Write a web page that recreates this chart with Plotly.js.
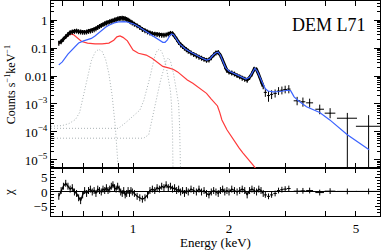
<!DOCTYPE html>
<html><head><meta charset="utf-8">
<script src="https://cdn.plot.ly/plotly-3.0.1.min.js"></script>
<style>html,body{margin:0;padding:0;background:#fff}#chart{width:382px;height:250px}</style>
</head><body><div id="chart"></div>
<script>
// ---- observed spectrum (dense part) ----
const dataE = [0.585,0.595,0.605,0.615,0.625,0.635,0.645,0.655,0.665,0.675,0.685,0.695,0.705,0.715,0.725,0.735,0.745,0.755,0.765,0.775,0.785,0.795,0.805,0.815,0.825,0.835,0.845,0.855,0.865,0.875,0.885,0.895,0.905,0.915,0.925,0.935,0.945,0.955,0.965,0.975,0.985,0.995,1.01,1.03,1.05,1.07,1.09,1.11,1.13,1.15,1.17,1.19,1.21,1.23,1.25,1.27,1.29,1.31,1.33,1.35,1.37,1.39,1.41,1.43,1.45,1.47,1.49,1.52,1.55,1.58,1.61,1.64,1.67,1.70,1.73,1.76,1.79,1.82,1.85,1.88,1.91,1.94,1.97,2.00,2.04,2.08,2.12,2.16,2.20,2.24,2.28,2.32,2.36,2.40,2.44,2.48,2.52,2.56];
const dataC = [0.15,0.17,0.21,0.26,0.31,0.36,0.38,0.40,0.41,0.39,0.38,0.37,0.37,0.38,0.40,0.41,0.43,0.46,0.50,0.55,0.60,0.65,0.70,0.75,0.80,0.84,0.88,0.92,0.97,1.02,1.07,1.12,1.15,1.17,1.18,1.17,1.13,1.07,1.00,0.93,0.86,0.80,0.72,0.63,0.55,0.47,0.42,0.38,0.35,0.33,0.32,0.31,0.30,0.29,0.29,0.30,0.32,0.34,0.33,0.27,0.21,0.16,0.13,0.115,0.10,0.088,0.078,0.068,0.060,0.053,0.048,0.044,0.040,0.037,0.038,0.046,0.058,0.068,0.070,0.055,0.036,0.022,0.016,0.014,0.013,0.012,0.0105,0.0095,0.0085,0.0078,0.0072,0.009,0.012,0.018,0.017,0.011,0.0068,0.0042];
const dataChi = [-1.5,0.5,2.0,3.0,2.0,1.0,1.5,0.0,-0.5,-2.0,-3.0,-1.0,0.5,-0.5,0.5,1.0,0.0,0.5,-0.5,1.0,0.5,0.0,1.0,0.5,1.5,0.5,1.0,2.0,2.5,1.5,1.0,2.0,1.0,0.0,-0.5,0.5,-1.0,-0.5,0.5,-0.5,0.5,0.0,-0.5,-1.5,-2.0,-2.5,-2.0,-1.0,0.5,1.0,0.5,1.5,1.0,2.0,1.5,2.5,1.5,2.0,1.0,1.5,0.5,1.0,0.0,0.5,-0.5,0.5,0.0,1.0,0.5,0.0,1.0,0.0,0.5,-0.5,-1.0,0.0,0.5,0.0,-0.5,0.5,1.0,0.0,0.5,0.0,1.0,0.5,0.0,0.5,1.0,0.5,-1.0,0.5,1.0,0.5,0.0,1.0,0.5,-0.5];

// ---- observed spectrum (sparse, high energy bins) ----
const binE    = [2.60,2.66,2.72,2.79,2.86,2.93,3.00,3.08,3.27,3.41,3.58,3.85,4.15,4.70,5.48];
const binHalf = [0.03,0.03,0.03,0.035,0.035,0.035,0.04,0.04,0.08,0.06,0.09,0.12,0.16,0.34,0.48];
const binC    = [0.0026,0.0020,0.0022,0.0024,0.0029,0.0031,0.0033,0.0034,0.0013,0.0012,0.0011,0.00065,0.00047,0.00031,0.00016];
const binUp   = [0.0010,0.0009,0.0009,0.0009,0.0011,0.0011,0.0012,0.0013,0.0005,0.0005,0.00045,0.0003,0.00024,0.00017,0.00024];
const binDown = [0.0008,0.0008,0.0007,0.0007,0.0008,0.0009,0.0009,0.0010,0.0004,0.0004,0.00035,0.00022,0.00016,0.000309,0.000159];
const binChi  = [-1.0,-1.5,-1.0,-0.5,0.5,0.8,1.0,1.2,0.3,0.4,0.5,-0.2,0.3,0.2,0.2];

// ---- total model (blue) ----
const blueE = [0.585,0.60,0.625,0.65,0.675,0.70,0.72,0.74,0.76,0.78,0.80,0.82,0.84,0.86,0.88,0.90,0.92,0.94,0.96,0.98,1.00,1.03,1.06,1.09,1.12,1.15,1.18,1.21,1.24,1.26,1.28,1.30,1.32,1.34,1.36,1.38,1.40,1.43,1.46,1.50,1.55,1.60,1.65,1.70,1.74,1.78,1.82,1.85,1.88,1.91,1.95,2.00,2.05,2.10,2.15,2.20,2.26,2.32,2.37,2.41,2.45,2.50,2.55,2.60,2.65,2.75,2.90,3.05,3.12,3.20,3.30,3.50,3.85,4.14,4.70,5.50];
const blueC = [0.025,0.032,0.06,0.10,0.15,0.18,0.20,0.22,0.27,0.35,0.45,0.55,0.65,0.74,0.81,0.86,0.88,0.88,0.85,0.80,0.73,0.62,0.50,0.40,0.33,0.28,0.22,0.18,0.16,0.16,0.19,0.26,0.32,0.30,0.24,0.18,0.14,0.11,0.093,0.077,0.062,0.051,0.043,0.037,0.040,0.055,0.068,0.071,0.055,0.035,0.020,0.015,0.013,0.0115,0.0100,0.0088,0.0078,0.0090,0.013,0.019,0.015,0.0085,0.0055,0.0035,0.0029,0.0027,0.0028,0.0031,0.0030,0.0018,0.0013,0.00080,0.00050,0.00027,0.00008,0.000023];

// ---- soft component (red) ----
const redE = [0.585,0.60,0.62,0.635,0.65,0.67,0.69,0.72,0.76,0.80,0.84,0.87,0.89,0.91,0.93,0.96,0.98,1.00,1.04,1.10,1.15,1.19,1.24,1.30,1.34,1.38,1.43,1.48,1.54,1.59,1.65,1.70,1.76,1.80,1.84,1.87,1.90,1.97,2.03,2.09,2.15,2.21,2.30,2.38,2.44];
const redC = [0.14,0.18,0.27,0.32,0.30,0.22,0.17,0.15,0.14,0.14,0.15,0.19,0.25,0.27,0.24,0.18,0.12,0.085,0.065,0.056,0.042,0.032,0.022,0.019,0.017,0.014,0.010,0.0072,0.0055,0.0042,0.0032,0.0024,0.0015,0.0011,0.00085,0.0005,0.00027,0.00012,0.00007,0.000041,0.000027,0.000018,0.000011,0.0000066,0.0000045];

// ---- gaussian line components (grey dotted) ----
const lineAE = [0.553,0.60,0.63,0.66,0.68,0.70,0.72,0.74,0.76,0.78,0.80,0.82,0.84,0.86,0.88,0.90];
const lineAC = [1.6e-4,1.7e-4,2.0e-4,2.8e-4,5e-4,2.2e-3,0.011,0.035,0.07,0.09,0.075,0.04,0.012,2e-3,1.5e-4,4e-6];
const lineBE = [0.553,0.90,0.95,1.00,1.05,1.08,1.11,1.13,1.15,1.17,1.19,1.21,1.23,1.25,1.27,1.29,1.31,1.32,1.33,1.335];
const lineBC = [1.35e-4,1.35e-4,2.2e-4,3.8e-4,6e-4,1.3e-3,4e-3,9e-3,0.022,0.05,0.08,0.092,0.075,0.045,0.022,0.009,3e-3,1e-3,1e-4,3e-6];
const lineCE = [0.553,1.08,1.12,1.15,1.18,1.20,1.22,1.25,1.27,1.29,1.31,1.34,1.37,1.39,1.40,1.41];
const lineCC = [6e-5,6e-5,8e-5,3e-4,1e-3,3e-3,7e-3,0.02,0.035,0.044,0.035,0.012,3e-3,1e-3,1.5e-4,3e-6];

// ---- axis labels ----
const xTickVals = [0.6,0.7,0.8,0.9,1,2,3,4,5];
const xTickText = ['','','','','1','2','','','5'];
const yTickVals = [1e-5,1e-4,1e-3,0.01,0.1,1];
const yTickText = ['10<sup>−5</sup>','10<sup>−4</sup>','10<sup>−3</sup>','0.01','0.1','1'];
const yMinorVals = [];
[1e-6,1e-5,1e-4,1e-3,1e-2,1e-1,1].forEach(d=>{for(let k=2;k<=9;k++) yMinorVals.push(+(d*k).toPrecision(2));});
const rTickVals = [-5,0,5];
const rTickText = ['−5','0','5'];
const rMinorVals = [-8,-7,-6,-4,-3,-2,-1,1,2,3,4,6,7,8];

const serif = 'Liberation Serif, Times New Roman, serif';
const grey = '#aab3b5';
const dotted = {color:grey,width:1,dash:'1px,2px'};
const traces = [
  {x:lineAE,y:lineAC,xaxis:'x2',yaxis:'y',mode:'lines',line:dotted},
  {x:lineBE,y:lineBC,xaxis:'x2',yaxis:'y',mode:'lines',line:dotted},
  {x:lineCE,y:lineCC,xaxis:'x2',yaxis:'y',mode:'lines',line:dotted},
  {x:redE,y:redC,xaxis:'x2',yaxis:'y',mode:'lines',line:{color:'#ff3a3a',width:1.2}},
  {x:dataE,y:dataC,xaxis:'x2',yaxis:'y',mode:'lines',line:{color:'#000',width:3},
   error_y:{type:'percent',value:20,color:'#000',thickness:1.2,width:0}},
  {x:binE,y:binC,xaxis:'x2',yaxis:'y',mode:'markers',marker:{size:1,color:'#000'},
   error_y:{type:'data',array:binUp,arrayminus:binDown,symmetric:false,color:'#000',thickness:1,width:0},
   error_x:{type:'data',array:binHalf,color:'#000',thickness:1,width:0}},
  {x:blueE,y:blueC,xaxis:'x2',yaxis:'y',mode:'lines',line:{color:'#3b63ff',width:1.2}},
  {x:dataE,y:dataChi,xaxis:'x',yaxis:'y2',mode:'lines',line:{color:'#000',width:1.3},
   error_y:{type:'constant',value:1.2,color:'#000',thickness:1,width:0}},
  {x:binE,y:binChi,xaxis:'x',yaxis:'y2',mode:'markers',marker:{size:1,color:'#000'},
   error_y:{type:'constant',value:1,color:'#000',thickness:1,width:0},
   error_x:{type:'data',array:binHalf,color:'#000',thickness:1,width:0}}
];

const axisCommon = {showline:true,linecolor:'#000',linewidth:1,mirror:'allticks',ticks:'inside',
  tickcolor:'#000',showgrid:false,zeroline:false,tickfont:{family:serif,size:13,color:'#000'}};
const xr = [Math.log10(0.553),Math.log10(5.95)];
const layout = {
  width:382,height:250,margin:{l:51,r:2,t:1,b:34},
  paper_bgcolor:'#fff',plot_bgcolor:'#fff',showlegend:false,
  font:{family:serif,color:'#000'},
  xaxis:Object.assign({},axisCommon,{type:'log',range:xr,anchor:'y2',tickmode:'array',tickvals:xTickVals,ticktext:xTickText,ticklen:5,
    title:{text:'Energy (keV)',font:{family:serif,size:13},standoff:4}}),
  xaxis2:Object.assign({},axisCommon,{type:'log',range:xr,anchor:'y',matches:'x',tickmode:'array',tickvals:xTickVals,ticktext:xTickText,ticklen:5,showticklabels:false}),
  yaxis:Object.assign({},axisCommon,{type:'log',domain:[0.2233,1],range:[-5.286,0.679],tickmode:'array',tickvals:yTickVals,ticktext:yTickText,ticklen:6,
    minor:{tickmode:'array',tickvals:yMinorVals,ticks:'inside',ticklen:3,tickcolor:'#000'},
    title:{text:'Counts s<sup>−1</sup>keV<sup>−1</sup>',font:{family:serif,size:12},standoff:6}}),
  yaxis2:Object.assign({},axisCommon,{domain:[0,0.2233],range:[-8.3,8.3],tickmode:'array',tickvals:rTickVals,ticktext:rTickText,ticklen:5,
    zeroline:true,zerolinecolor:'#000',zerolinewidth:1,
    minor:{tickmode:'array',tickvals:rMinorVals,ticks:'inside',ticklen:3,tickcolor:'#000'},
    title:{text:'χ',font:{family:serif,size:13},standoff:16}}),
  annotations:[{xref:'paper',yref:'paper',x:0.845,y:0.888,text:'DEM L71',showarrow:false,
    font:{family:serif,size:18,color:'#000'},xanchor:'center',yanchor:'middle'}]
};
Plotly.newPlot('chart',traces,layout,{staticPlot:true,displayModeBar:false});
</script></body></html>
